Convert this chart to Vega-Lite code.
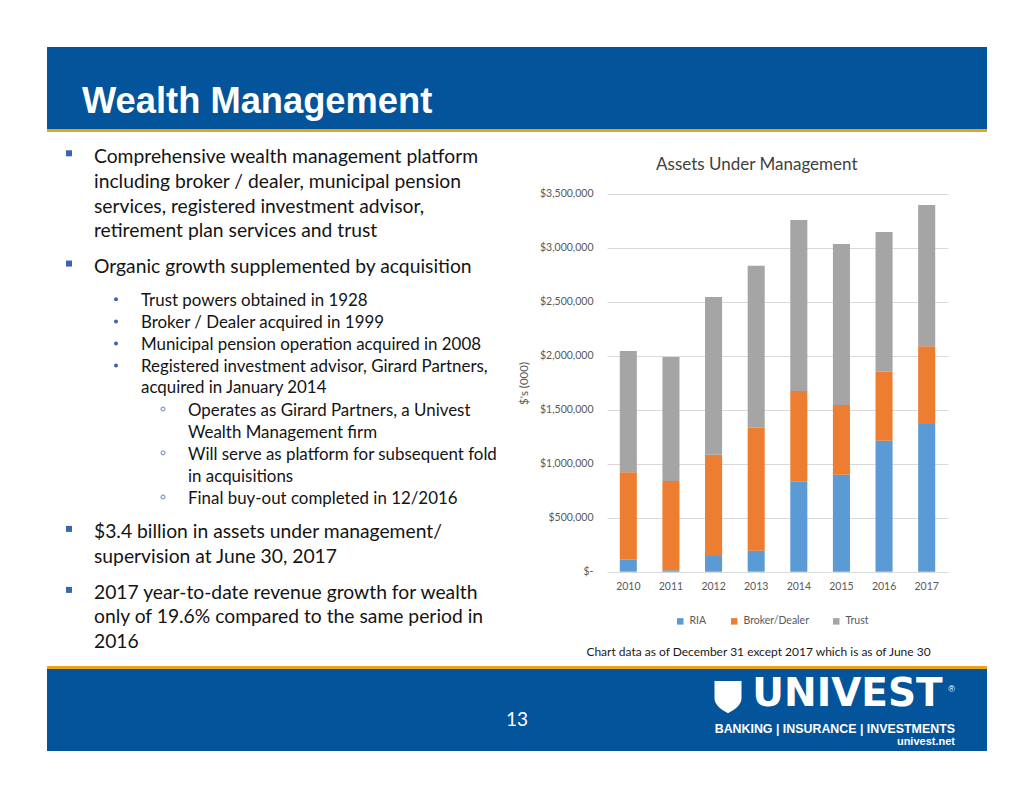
{
  "$schema": "https://vega.github.io/schema/vega-lite/v6.json",
  "padding": {"left": 47, "top": 47, "right": 47, "bottom": 48},
  "autosize": {"type": "pad"},
  "background": "white",
  "spacing": 0,
  "config": {"view": {"stroke": null}, "font": "Lato"},
  "vconcat": [
    {
      "width": 940, "height": 82,
      "view": {"fill": "#03549a", "stroke": null},
      "data": {"values": [{"label": "Wealth Management"}]},
      "mark": {"type": "text", "font": "Liberation Sans", "fontWeight": "bold", "fontSize": 36.3, "color": "#ffffff", "align": "left", "baseline": "alphabetic", "x": 35, "y": 66},
      "encoding": {"text": {"field": "label"}}
    },
    {
      "width": 940, "height": 3,
      "view": {"fill": "#e9a41c", "stroke": null},
      "data": {"values": []},
      "mark": {"type": "rect"},
      "encoding": {}
    },
    {
      "bounds": "flush",
      "spacing": 0,
      "resolve": {"scale": {"color": "independent"}, "legend": {"color": "independent"}},
      "hconcat": [
        {
          "width": 560, "height": 534,
          "data": {"values": [
            {"line": 0, "level": 1, "bullet": true, "text": "Comprehensive wealth management platform"},
            {"line": 1.05, "level": 1, "bullet": false, "text": "including broker / dealer, municipal pension"},
            {"line": 2.05, "level": 1, "bullet": false, "text": "services, registered investment advisor,"},
            {"line": 3.05, "level": 1, "bullet": false, "text": "retirement plan services and trust"},
            {"line": 4.5, "level": 1, "bullet": true, "text": "Organic growth supplemented by acquisition"},
            {"line": 5.85, "level": 2, "bullet": true, "text": "Trust powers obtained in 1928"},
            {"line": 6.75, "level": 2, "bullet": true, "text": "Broker / Dealer acquired in 1999"},
            {"line": 7.65, "level": 2, "bullet": true, "text": "Municipal pension operation acquired in 2008"},
            {"line": 8.55, "level": 2, "bullet": true, "text": "Registered investment advisor, Girard Partners,"},
            {"line": 9.41, "level": 2, "bullet": false, "text": "acquired in January 2014"},
            {"line": 10.34, "level": 3, "bullet": true, "text": "Operates as Girard Partners, a Univest"},
            {"line": 11.22, "level": 3, "bullet": false, "text": "Wealth Management firm"},
            {"line": 12.13, "level": 3, "bullet": true, "text": "Will serve as platform for subsequent fold"},
            {"line": 13.02, "level": 3, "bullet": false, "text": "in acquisitions"},
            {"line": 13.93, "level": 3, "bullet": true, "text": "Final buy-out completed in 12/2016"},
            {"line": 15.33, "level": 1, "bullet": true, "text": "$3.4 billion in assets under management/"},
            {"line": 16.35, "level": 1, "bullet": false, "text": "supervision at June 30, 2017"},
            {"line": 17.82, "level": 1, "bullet": true, "text": "2017 year-to-date revenue growth for wealth"},
            {"line": 18.8, "level": 1, "bullet": false, "text": "only of 19.6% compared to the same period in"},
            {"line": 19.82, "level": 1, "bullet": false, "text": "2016"}
          ]},
          "encoding": {
            "x": {"field": "level", "type": "quantitative", "scale": {"domain": [0, 11.915], "nice": false, "zero": false}, "axis": null},
            "y": {"field": "line", "type": "quantitative", "scale": {"domain": [-1.2531, 20.5429], "nice": false, "zero": false, "reverse": true}, "axis": null}
          },
          "layer": [
            {
              "transform": [{"filter": "datum.level == 1"}],
              "mark": {"type": "text", "align": "left", "baseline": "alphabetic", "fontSize": 19.3, "color": "#141414"},
              "encoding": {"text": {"field": "text"}}
            },
            {
              "transform": [{"filter": "datum.level > 1"}],
              "mark": {"type": "text", "align": "left", "baseline": "alphabetic", "fontSize": 16.9, "color": "#141414"},
              "encoding": {"text": {"field": "text"}}
            },
            {
              "transform": [{"filter": "datum.bullet && datum.level == 1"}],
              "mark": {"type": "point", "shape": "square", "filled": true, "size": 36, "color": "#3c64b1", "opacity": 1, "xOffset": -25, "yOffset": -9.4}
            },
            {
              "transform": [{"filter": "datum.bullet && datum.level == 2"}],
              "mark": {"type": "point", "shape": "circle", "filled": true, "size": 16, "color": "#3c64b1", "opacity": 1, "xOffset": -25, "yOffset": -6.7}
            },
            {
              "transform": [{"filter": "datum.bullet && datum.level == 3"}],
              "mark": {"type": "point", "shape": "circle", "filled": false, "size": 16, "strokeWidth": 1, "color": "#5f80c0", "opacity": 1, "xOffset": -25, "yOffset": -7}
            }
          ]
        },
        {
          "width": 341, "height": 534,
          "data": {"values": [
            {"year": "2010", "series": "RIA", "value": 115000},
            {"year": "2010", "series": "Broker/Dealer", "value": 806000},
            {"year": "2010", "series": "Trust", "value": 1124000},
            {"year": "2011", "series": "RIA", "value": 13000},
            {"year": "2011", "series": "Broker/Dealer", "value": 827000},
            {"year": "2011", "series": "Trust", "value": 1149000},
            {"year": "2012", "series": "RIA", "value": 145000},
            {"year": "2012", "series": "Broker/Dealer", "value": 939000},
            {"year": "2012", "series": "Trust", "value": 1461000},
            {"year": "2013", "series": "RIA", "value": 195000},
            {"year": "2013", "series": "Broker/Dealer", "value": 1139000},
            {"year": "2013", "series": "Trust", "value": 1501000},
            {"year": "2014", "series": "RIA", "value": 834000},
            {"year": "2014", "series": "Broker/Dealer", "value": 840000},
            {"year": "2014", "series": "Trust", "value": 1585000},
            {"year": "2015", "series": "RIA", "value": 899000},
            {"year": "2015", "series": "Broker/Dealer", "value": 646000},
            {"year": "2015", "series": "Trust", "value": 1492000},
            {"year": "2016", "series": "RIA", "value": 1214000},
            {"year": "2016", "series": "Broker/Dealer", "value": 639000},
            {"year": "2016", "series": "Trust", "value": 1295000},
            {"year": "2017", "series": "RIA", "value": 1369000},
            {"year": "2017", "series": "Broker/Dealer", "value": 719000},
            {"year": "2017", "series": "Trust", "value": 1310000}
          ]},
          "transform": [{"calculate": "indexof(['RIA', 'Broker/Dealer', 'Trust'], datum.series)", "as": "stackRank"}],
          "title": {"text": "Assets Under Management", "orient": "top", "anchor": "middle", "frame": "group", "offset": -50, "dx": -20.7, "dy": 5, "fontSize": 17, "fontWeight": "normal", "color": "#404040", "font": "Lato", "baseline": "alphabetic"},
          "mark": {"type": "bar"},
          "encoding": {
            "x": {"field": "year", "type": "ordinal", "scale": {"paddingInner": 0.6, "paddingOuter": 0.3},
              "axis": {"title": "Chart data as of December 31 except 2017 which is as of June 30", "titleX": 151, "titleY": 83.3, "titleAlign": "center", "titleAnchor": null, "titleBaseline": "alphabetic", "titleFontSize": 12, "titleFontWeight": "normal", "titleColor": "#1a1a1a", "titleFont": "Lato",
                "offset": -94.3, "labelAngle": 0, "ticks": false, "domain": false, "grid": false, "labelFontSize": 10.5, "labelColor": "#595959", "labelPadding": 10, "labelFont": "Lato"}},
            "y": {"field": "value", "type": "quantitative", "stack": "zero", "scale": {"domain": [-873900, 4074500], "nice": false, "zero": false},
              "axis": {"values": [0, 500000, 1000000, 1500000, 2000000, 2500000, 3000000, 3500000],
                "labelExpr": "datum.value == 0 ? '$-\u00a0\u00a0' : '$' + format(datum.value, ',')",
                "title": "$'s (000)", "titleX": -83, "titleY": 251, "titleAngle": -90, "titleBaseline": "middle", "titleAlign": "center", "titleFontSize": 11.5, "titleFontWeight": "normal", "titleColor": "#595959", "titleFont": "Lato",
                "ticks": false, "domain": false, "grid": true, "gridColor": "#d9d9d9", "gridWidth": 1, "labelFontSize": 10.5, "labelColor": "#595959", "labelPadding": 14, "labelFont": "Lato"}},
            "order": {"field": "stackRank", "type": "quantitative", "sort": "ascending"},
            "color": {"field": "series", "type": "nominal", "sort": ["RIA", "Broker/Dealer", "Trust"],
              "scale": {"domain": ["RIA", "Broker/Dealer", "Trust"], "range": ["#5b9bd5", "#ed7d31", "#a5a5a5"]},
              "legend": {"title": null, "orient": "none", "legendX": 68, "legendY": 484, "direction": "horizontal", "symbolType": "square", "symbolSize": 42, "symbolStrokeWidth": 0, "labelFontSize": 10.5, "labelColor": "#595959", "labelFont": "Lato", "columnPadding": 22, "labelOffset": 4}}
          }
        }
      ]
    },
    {
      "width": 940, "height": 3,
      "view": {"fill": "#e9a41c", "stroke": null},
      "data": {"values": []},
      "mark": {"type": "rect"},
      "encoding": {}
    },
    {
      "width": 940, "height": 82,
      "view": {"fill": "#03549a", "stroke": null},
      "data": {"values": [{}]},
      "layer": [
        {"mark": {"type": "text", "text": "13", "x": 470, "y": 51, "align": "center", "baseline": "middle", "fontSize": 19, "font": "Lato", "color": "#ffffff"}, "encoding": {}},
        {"mark": {"type": "point", "shape": "M-0.9,-1 L0.9,-1 L0.9,0.15 C0.9,0.65 0.35,0.95 0,1.15 C-0.35,0.95 -0.9,0.65 -0.9,0.15 Z", "filled": true, "size": 900, "color": "#ffffff", "opacity": 1, "x": 681, "y": 27}, "encoding": {}},
        {"mark": {"type": "text", "text": "UNIVEST", "x": 800.5, "y": 37, "align": "center", "baseline": "alphabetic", "fontSize": 39, "font": "DejaVu Sans", "fontWeight": "bold", "color": "#ffffff"}, "encoding": {}},
        {"mark": {"type": "text", "text": "®", "x": 908, "y": 23, "align": "right", "baseline": "alphabetic", "fontSize": 9, "font": "Liberation Sans", "color": "#ffffff"}, "encoding": {}},
        {"mark": {"type": "text", "text": "BANKING | INSURANCE | INVESTMENTS", "x": 908, "y": 64.3, "align": "right", "baseline": "alphabetic", "fontSize": 12.4, "font": "Liberation Sans", "fontWeight": "bold", "color": "#ffffff"}, "encoding": {}},
        {"mark": {"type": "text", "text": "univest.net", "x": 908, "y": 76, "align": "right", "baseline": "alphabetic", "fontSize": 11, "font": "Liberation Sans", "fontWeight": "bold", "color": "#ffffff"}, "encoding": {}}
      ]
    }
  ]
}
